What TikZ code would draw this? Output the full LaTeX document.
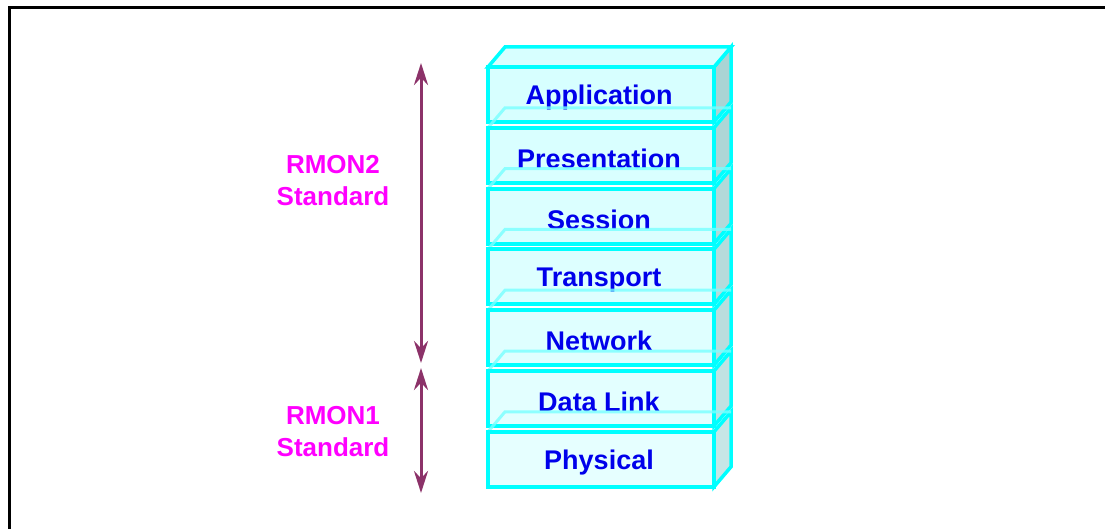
\documentclass[tikz,border=0pt]{standalone}
\usepackage{fontspec}
\setmainfont{Liberation Sans}
\usetikzlibrary{arrows.meta}
\definecolor{edgecyan}{RGB}{0,255,255}
\definecolor{faintcyan}{RGB}{120,255,255}
\definecolor{layertext}{RGB}{0,0,235}
\definecolor{stdmag}{RGB}{255,0,255}
\definecolor{arrowpurple}{RGB}{140,50,105}
\tikzset{
  layerlabel/.style={font=\fontsize{27}{30}\selectfont\bfseries, text=layertext, inner sep=0pt},
  stdlabel/.style={font=\fontsize{26}{32}\selectfont\bfseries, text=stdmag, align=center, inner sep=0pt},
  span/.style={draw=arrowpurple, line width=3pt, {Stealth[length=22pt,width=14pt]}-{Stealth[length=22pt,width=14pt]}},
  frameline/.style={draw=black, line width=3pt},
  frontface/.style={draw=edgecyan, line width=4pt, line join=miter},
  sideface/.style={draw=edgecyan, line width=3.5pt, line join=miter},
  backedge/.style={draw=faintcyan, line width=3pt, opacity=0.8}
}
\begin{document}
\begin{tikzpicture}[x=1pt,y=-1pt]
\useasboundingbox (0,0) rectangle (1105,529);
% frame
\draw[frameline] (9,529) -- (9,8) -- (1105,8);
% layers
\def\L{488}\def\R{714}\def\dx{17}\def\dy{20}
\foreach \i/\name/\txt/\fr/\sd in {
  0/app/Application/{215,255,255}/{170,212,212},
  1/pres/Presentation/{217,255,255}/{174,214,214},
  2/sess/Session/{219,255,255}/{178,217,217},
  3/trans/Transport/{221,255,255}/{182,219,219},
  4/net/Network/{223,255,255}/{186,221,221},
  5/dl/Data Link/{227,255,255}/{192,226,226},
  6/phy/Physical/{230,255,255}/{198,230,230}}{
  \pgfmathsetmacro{\T}{67+60.8*\i}
  \pgfmathsetmacro{\B}{\T+55}
  \definecolor{frontfill}{RGB}{\fr}
  \definecolor{sidefill}{RGB}{\sd}
  % side face
  \filldraw[sideface, fill=sidefill] (\R,\T) -- (\R+\dx,\T-\dy) -- (\R+\dx,\B-\dy) -- (\R,\B) -- cycle;
  \ifnum\i=0
    \filldraw[sideface, fill=frontfill] (\L,\T) -- (\L+\dx,\T-\dy) -- (\R+\dx,\T-\dy) -- (\R,\T) -- cycle;
  \else
    \draw[backedge] (\L,\T) -- (\L+\dx,\T-\dy) -- (\R+\dx,\T-\dy);
  \fi
  % front face
  \filldraw[frontface, fill=frontfill] (\L,\T) rectangle (\R,\B);
  \node[layerlabel] (\name) at ({(\L+\R)/2-2},\T+31) {\txt};
}
% standards labels
\node[stdlabel] (rmon2) at (333,181) {RMON2\\Standard};
\node[stdlabel] (rmon1) at (333,432) {RMON1\\Standard};
% arrows
\coordinate (r2top) at (421,63);
\coordinate (r2bot) at (421,363);
\coordinate (r1top) at (421,368);
\coordinate (r1bot) at (421,493);
\draw[span] (r2top) -- (r2bot);
\draw[span] (r1top) -- (r1bot);
\end{tikzpicture}
\end{document}
